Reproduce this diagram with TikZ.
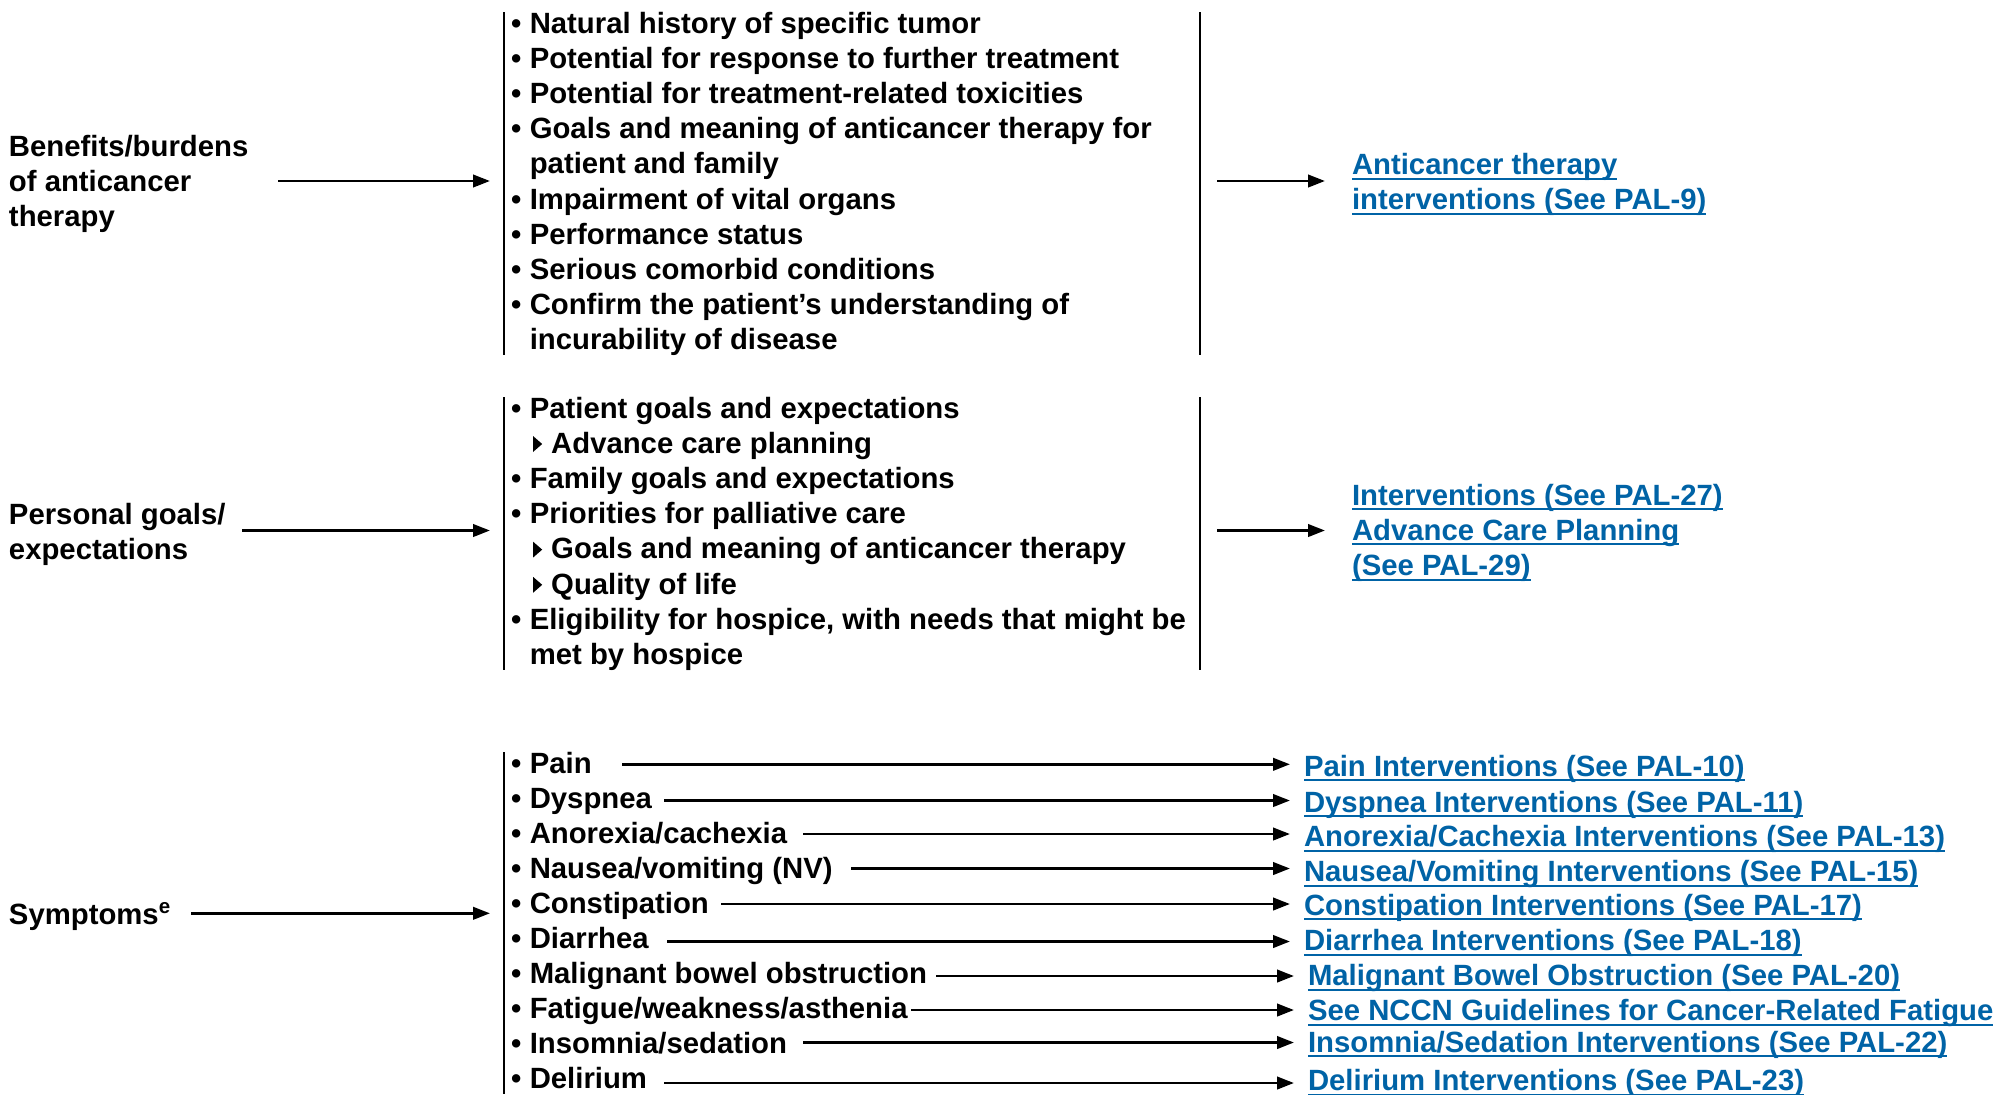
\documentclass[tikz,border=0pt]{standalone}
\usepackage{fontspec}
\setmainfont{Liberation Sans}
\usetikzlibrary{arrows.meta}
\definecolor{linkblue}{RGB}{0,99,166}

% bullet with fixed width, hanging indent, sub-item triangle, underlined link line
\newcommand\bulx{\makebox[9.4pt][l]{•}}
\newcommand\indx{\hspace*{9.4pt}}
\newcommand\subtri{\hspace*{11pt}\tikz[baseline=0pt]\fill (0pt,0.6pt)--(0pt,8.6pt)--(4.6pt,4.6pt)--cycle;\hspace{4.5pt}}
\newsavebox\lnkbox
\newcommand\lnkline[1]{\sbox\lnkbox{#1}\rlap{\rule[-2.6pt]{\wd\lnkbox}{1pt}}\usebox\lnkbox}

\begin{document}
\begin{tikzpicture}[x=0.5pt,y=-0.5pt,
  txt/.style={anchor=base west, inner sep=0pt, outer sep=0pt, align=left,
    font=\fontsize{14.65pt}{17.6pt}\selectfont\bfseries},
  lnk/.style={txt, text=linkblue},
  bar/.style={line width=1.2pt},
  arr/.style={line width=1.4pt, -{Triangle[length=8.5pt,width=6.2pt]}},
  symarr/.style={arr, shorten >=7pt}]
\useasboundingbox (0,0) rectangle (1997,1094);
\fill[white] (0,0) rectangle (1997,1094);

% multi-line nodes are placed by the baseline of their last line

% ---------- benefits / burdens ----------
\node[txt] (lab1) at (9,226.4) {Benefits/burdens\\of anticancer\\therapy};
\node[txt] (list1) at (511,349.8) {\bulx Natural history of specific tumor\\
\bulx Potential for response to further treatment\\
\bulx Potential for treatment-related toxicities\\
\bulx Goals and meaning of anticancer therapy for\\
\indx patient and family\\
\bulx Impairment of vital organs\\
\bulx Performance status\\
\bulx Serious comorbid conditions\\
\bulx Confirm the patient’s understanding of\\
\indx incurability of disease};
\node[lnk] (link1) at (1352,209.5) {\lnkline{Anticancer therapy}\\\lnkline{interventions (See PAL-9)}};
\draw[bar] (504,12) -- (504,355);
\draw[bar] (1200,12) -- (1200,355);
\coordinate (p1s) at (278,181);
\coordinate (p1e) at (490,181);
\coordinate (q1s) at (1217,181);
\coordinate (q1e) at (1325,181);
\draw[arr] (p1s) -- (p1e);
\draw[arr] (q1s) -- (q1e);

% ---------- personal goals ----------
\node[txt] (lab2) at (9,559.2) {Personal goals/\\expectations};
\node[txt] (list2) at (511,664.4) {\bulx Patient goals and expectations\\
\subtri Advance care planning\\
\bulx Family goals and expectations\\
\bulx Priorities for palliative care\\
\subtri Goals and meaning of anticancer therapy\\
\subtri Quality of life\\
\bulx Eligibility for hospice, with needs that might be\\
\indx met by hospice};
\node[lnk] (link2) at (1352,575.4) {\lnkline{Interventions (See PAL-27)}\\\lnkline{Advance Care Planning}\\\lnkline{(See PAL-29)}};
\draw[bar] (504,397) -- (504,670);
\draw[bar] (1200,397) -- (1200,670);
\coordinate (p2s) at (242,530.5);
\coordinate (p2e) at (490,530.5);
\coordinate (q2s) at (1217,530.5);
\coordinate (q2e) at (1325,530.5);
\draw[arr] (p2s) -- (p2e);
\draw[arr] (q2s) -- (q2e);

% ---------- symptoms ----------
\node[txt] (lab3) at (9,924) {Symptoms\textsuperscript{e}};
\draw[bar] (504,752) -- (504,1094);
\coordinate (p3s) at (191,913.3);
\coordinate (p3e) at (490,913.3);
\draw[arr] (p3s) -- (p3e);

\node[txt] (s1)  at (511,773)    {\bulx Pain};
\node[txt] (s2)  at (511,808.1)  {\bulx Dyspnea};
\node[txt] (s3)  at (511,843.1)  {\bulx Anorexia/cachexia};
\node[txt] (s4)  at (511,878.2)  {\bulx Nausea/vomiting (NV)};
\node[txt] (s5)  at (511,913.3)  {\bulx Constipation};
\node[txt] (s6)  at (511,948.4)  {\bulx Diarrhea};
\node[txt] (s7)  at (511,983.4)  {\bulx Malignant bowel obstruction};
\node[txt] (s8)  at (511,1018.5) {\bulx Fatigue/weakness/asthenia};
\node[txt] (s9)  at (511,1053.6) {\bulx Insomnia/sedation};
\node[txt] (s10) at (511,1088.6) {\bulx Delirium};

\node[lnk] (l1)  at (1304,776)    {\lnkline{Pain Interventions (See PAL-10)}};
\node[lnk] (l2)  at (1304,812)    {\lnkline{Dyspnea Interventions (See PAL-11)}};
\node[lnk] (l3)  at (1304,846.7)  {\lnkline{Anorexia/Cachexia Interventions (See PAL-13)}};
\node[lnk] (l4)  at (1304,881.7)  {\lnkline{Nausea/Vomiting Interventions (See PAL-15)}};
\node[lnk] (l5)  at (1304,915)    {\lnkline{Constipation Interventions (See PAL-17)}};
\node[lnk] (l6)  at (1304,950.5)  {\lnkline{Diarrhea Interventions (See PAL-18)}};
\node[lnk] (l7)  at (1308,985.5)  {\lnkline{Malignant Bowel Obstruction (See PAL-20)}};
\node[lnk] (l8)  at (1308,1020.5) {\lnkline{See NCCN Guidelines for Cancer-Related Fatigue}};
\node[lnk] (l9)  at (1308,1052)   {\lnkline{Insomnia/Sedation Interventions (See PAL-22)}};
\node[lnk] (l10) at (1308,1090.5) {\lnkline{Delirium Interventions (See PAL-23)}};

\coordinate (a1)  at (622,764.3);
\coordinate (a2)  at (664,800.5);
\coordinate (a3)  at (803,834);
\coordinate (a4)  at (851,868.5);
\coordinate (a5)  at (721,904);
\coordinate (a6)  at (667,941.5);
\coordinate (a7)  at (936,976);
\coordinate (a8)  at (911,1010);
\coordinate (a9)  at (803,1042.5);
\coordinate (a10) at (664,1083);
\foreach \k in {1,...,10}
  \draw[symarr] (a\k) -- (a\k -| l\k.west);
\end{tikzpicture}
\end{document}
